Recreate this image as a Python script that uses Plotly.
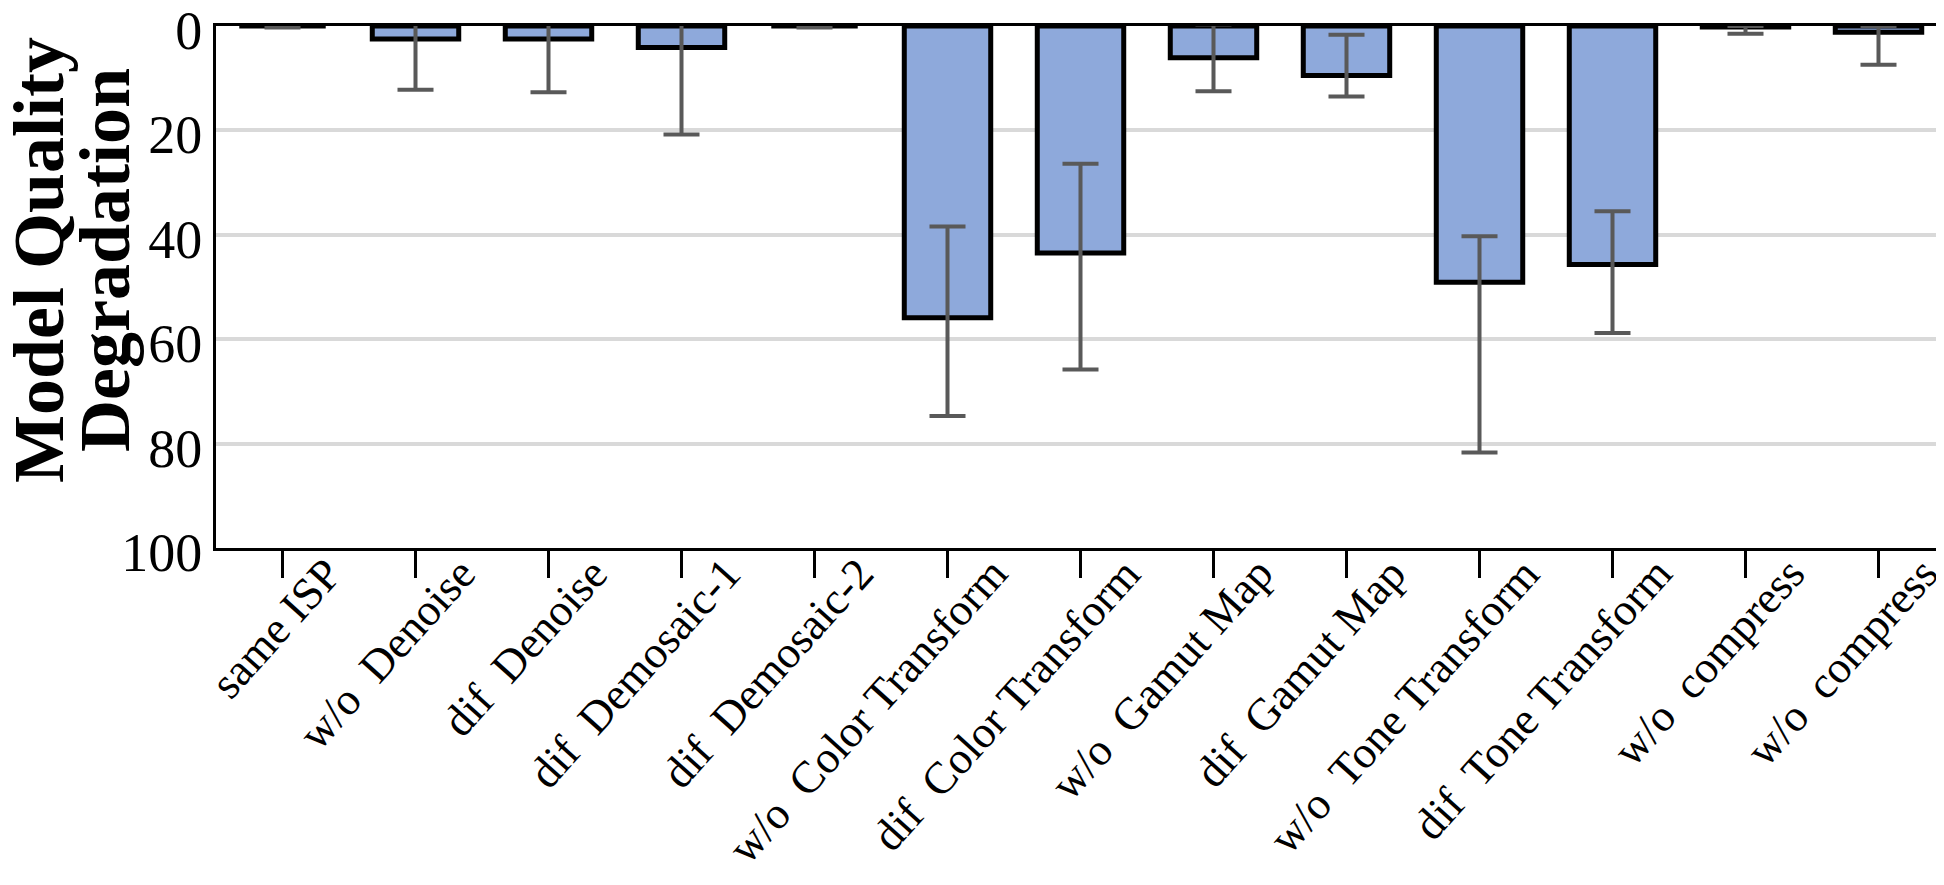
import plotly.graph_objects as go

# ---- data ----
categories = ["same ISP", "w/o\u00a0 Denoise", "dif\u00a0 Denoise", "dif\u00a0 Demosaic-1",
              "dif\u00a0 Demosaic-2", "w/o\u00a0 Color Transform", "dif\u00a0 Color Transform",
              "w/o\u00a0 Gamut Map", "dif\u00a0 Gamut Map", "w/o\u00a0 Tone Transform",
              "dif\u00a0 Tone Transform", "w/o\u00a0 compress", "w/o\u00a0 compress"]
degradation = [0.0, 2.5, 2.5, 4.1, 0.0, 55.9, 43.5, 6.1, 9.5, 49.1, 45.7, 0.2, 1.2]
err_plus = [0.3, 9.7, 10.2, 16.7, 0.3, 18.8, 22.3, 6.4, 4.0, 32.6, 13.1, 1.3, 6.2]
err_minus = [0.3, 9.7, 10.2, 16.7, 0.3, 17.5, 17.1, 6.4, 7.8, 8.8, 10.2, 0.2, 1.2]
y_ticks = [0, 20, 40, 60, 80, 100]

positions = list(range(len(categories)))

SERIF = "Liberation Serif, Times New Roman, serif"

fig = go.Figure()
fig.add_trace(go.Bar(
    x=positions, y=degradation,
    marker=dict(color="#8EA9DB", line=dict(color="black", width=5)),
    error_y=dict(type="data", symmetric=False, array=err_plus, arrayminus=err_minus,
                 color="#595959", thickness=4, width=18),
    showlegend=False,
))

# category labels (rotated)
for p, lab in zip(positions, categories):
    fig.add_annotation(x=p, xref="x", y=0, yref="paper", text=lab, showarrow=False,
                       textangle=-48, xanchor="right", yanchor="top",
                       xshift=72, yshift=2,
                       font=dict(family=SERIF, size=45, color="black"))

# y-axis title (two tight lines)
fig.add_annotation(x=0, xref="paper", y=0.5, yref="paper", text="<b>Model Quality</b>",
                   showarrow=False, textangle=-90, xanchor="center", yanchor="middle",
                   xshift=-177, yshift=27, font=dict(family=SERIF, size=72, color="black"))
fig.add_annotation(x=0, xref="paper", y=0.5, yref="paper", text="<b>Degradation</b>",
                   showarrow=False, textangle=-90, xanchor="center", yanchor="middle",
                   xshift=-111, yshift=27, font=dict(family=SERIF, size=72, color="black"))

fig.update_layout(
    width=1944, height=885,
    margin=dict(l=208, r=7, t=18, b=345, autoexpand=False),
    paper_bgcolor="white", plot_bgcolor="white",
    bargap=0.35,
    xaxis=dict(range=[-0.5, len(categories) - 0.5], tickvals=positions, showticklabels=False,
               ticks="outside", ticklen=27, tickwidth=3, tickcolor="black",
               showline=True, linecolor="black", linewidth=3, mirror=True,
               showgrid=False, zeroline=False, automargin=False),
    yaxis=dict(range=[100, 0], tickvals=y_ticks, ticks="", ticklabeloverflow="allow",
               ticklabelshift=-4,
               tickfont=dict(family=SERIF, size=54, color="black"),
               showline=True, linecolor="black", linewidth=3, mirror=True,
               showgrid=True, gridcolor="#D9D9D9", gridwidth=3.5, zeroline=False,
               automargin=False),
)

fig.write_html("out.html")
